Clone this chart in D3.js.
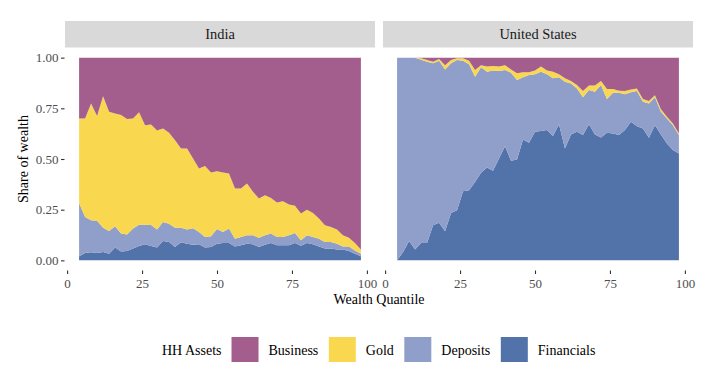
<!DOCTYPE html>
<html>
<head>
<meta charset="utf-8">
<script src="https://cdn.jsdelivr.net/npm/d3@7"></script>
<style>
  body { margin: 0; background: #fff; }
  svg, svg text { font-family: 'Liberation Serif', 'DejaVu Serif', serif; }
  svg { display: block; }
</style>
</head>
<body>
<script>
// wealth quantiles (x)
const quantiles = [4, 6, 8, 10, 12, 14, 16, 18, 20, 22, 24, 26, 28, 30, 32, 34, 36, 38, 40, 42, 44, 46, 48, 50,
  52, 54, 56, 58, 60, 62, 64, 66, 68, 70, 72, 74, 76, 78, 80, 82, 84, 86, 88, 90, 92, 94, 96, 98];

// stacking order, bottom to top
const assetKeys = ['Financials', 'Deposits', 'Gold', 'Business'];
// legend order
const legendKeys = ['Business', 'Gold', 'Deposits', 'Financials'];

const indiaFinancials = [0.020, 0.036, 0.040, 0.036, 0.041, 0.033, 0.063, 0.044, 0.046, 0.058, 0.071, 0.079,
  0.071, 0.063, 0.096, 0.091, 0.066, 0.089, 0.082, 0.077, 0.079, 0.063, 0.066, 0.082,
  0.086, 0.086, 0.069, 0.074, 0.082, 0.079, 0.066, 0.077, 0.086, 0.074, 0.074, 0.074,
  0.086, 0.072, 0.086, 0.079, 0.069, 0.058, 0.058, 0.053, 0.053, 0.046, 0.033, 0.020];
const indiaDeposits = [0.263, 0.178, 0.158, 0.160, 0.120, 0.112, 0.105, 0.088, 0.081, 0.099, 0.105, 0.097,
  0.104, 0.089, 0.093, 0.090, 0.095, 0.072, 0.070, 0.081, 0.061, 0.052, 0.053, 0.073,
  0.054, 0.071, 0.038, 0.041, 0.042, 0.045, 0.046, 0.047, 0.046, 0.041, 0.041, 0.050,
  0.049, 0.027, 0.038, 0.036, 0.038, 0.033, 0.033, 0.029, 0.016, 0.023, 0.016, 0.013];
const indiaGold = [0.417, 0.486, 0.576, 0.516, 0.649, 0.588, 0.557, 0.585, 0.570, 0.543, 0.554, 0.491,
  0.495, 0.488, 0.461, 0.449, 0.432, 0.391, 0.400, 0.344, 0.313, 0.351, 0.314, 0.285,
  0.293, 0.271, 0.247, 0.239, 0.255, 0.214, 0.193, 0.197, 0.176, 0.170, 0.177, 0.151,
  0.134, 0.132, 0.126, 0.119, 0.099, 0.082, 0.074, 0.070, 0.055, 0.043, 0.037, 0.020];
const indiaBusiness = [0.300, 0.300, 0.226, 0.288, 0.190, 0.267, 0.275, 0.283, 0.303, 0.300, 0.270, 0.333,
  0.330, 0.360, 0.350, 0.370, 0.407, 0.448, 0.448, 0.498, 0.547, 0.534, 0.567, 0.560,
  0.567, 0.572, 0.646, 0.646, 0.621, 0.662, 0.695, 0.679, 0.692, 0.715, 0.708, 0.725,
  0.731, 0.769, 0.750, 0.766, 0.794, 0.827, 0.835, 0.848, 0.876, 0.888, 0.914, 0.947];

const usFinancials = [0.000, 0.041, 0.096, 0.053, 0.086, 0.086, 0.173, 0.185, 0.143, 0.234, 0.247, 0.341,
  0.346, 0.387, 0.432, 0.458, 0.442, 0.502, 0.563, 0.491, 0.498, 0.596, 0.580, 0.634,
  0.638, 0.643, 0.613, 0.671, 0.552, 0.621, 0.634, 0.618, 0.672, 0.621, 0.606, 0.629,
  0.626, 0.618, 0.643, 0.684, 0.662, 0.651, 0.605, 0.667, 0.621, 0.577, 0.544, 0.527];
const usDeposits = [1.000, 0.959, 0.904, 0.947, 0.904, 0.894, 0.799, 0.800, 0.799, 0.738, 0.741, 0.644,
  0.621, 0.519, 0.520, 0.473, 0.494, 0.432, 0.376, 0.435, 0.392, 0.307, 0.334, 0.284,
  0.293, 0.275, 0.285, 0.232, 0.329, 0.252, 0.214, 0.186, 0.168, 0.211, 0.259, 0.167,
  0.201, 0.209, 0.177, 0.145, 0.173, 0.132, 0.169, 0.137, 0.112, 0.123, 0.123, 0.091];
const usGold = [0.000, 0.000, 0.000, 0.000, 0.007, 0.008, 0.008, 0.008, 0.021, 0.016, 0.009, 0.012,
  0.018, 0.033, 0.011, 0.025, 0.023, 0.022, 0.024, 0.016, 0.033, 0.025, 0.014, 0.018,
  0.025, 0.018, 0.033, 0.015, 0.017, 0.012, 0.017, 0.031, 0.022, 0.030, 0.020, 0.049,
  0.018, 0.010, 0.015, 0.014, 0.013, 0.013, 0.012, 0.011, 0.012, 0.008, 0.008, 0.008];
const usBusiness = [0.000, 0.000, 0.000, 0.000, 0.003, 0.012, 0.020, 0.007, 0.037, 0.012, 0.003, 0.003,
  0.015, 0.061, 0.037, 0.044, 0.041, 0.044, 0.037, 0.058, 0.077, 0.072, 0.072, 0.064,
  0.044, 0.064, 0.069, 0.082, 0.102, 0.115, 0.135, 0.165, 0.138, 0.138, 0.115, 0.155,
  0.155, 0.163, 0.165, 0.157, 0.152, 0.204, 0.214, 0.185, 0.255, 0.292, 0.325, 0.374];

const yTicks = [0, 0.25, 0.5, 0.75, 1];
const xTicks = [0, 25, 50, 75, 100];

const colors = {
  Business: '#a45e8d',
  Gold: '#f9d84f',
  Deposits: '#8f9fc9',
  Financials: '#5272aa'
};

const width = 720;
const height = 384;

const panels = [
  { name: 'India', left: 65, series: { Financials: indiaFinancials, Deposits: indiaDeposits, Gold: indiaGold, Business: indiaBusiness } },
  { name: 'United States', left: 383, series: { Financials: usFinancials, Deposits: usDeposits, Gold: usGold, Business: usBusiness } }
];

const panelW = 310;
const stripTop = 21;
const panelTop = 47.5;
const panelBottom = 270.5;

const svg = d3.select('body').append('svg')
  .attr('width', width)
  .attr('height', height);

const y = d3.scaleLinear().domain([-0.05, 1.05]).range([panelBottom, panelTop]);

const stack = d3.stack()
  .keys(assetKeys)
  .offset(d3.stackOffsetExpand);

panels.forEach((p, pi) => {
  const x = d3.scaleLinear().domain([-0.7, 102.7]).range([p.left, p.left + panelW]);

  // rows of shares per quantile
  const rows = quantiles.map((q, i) => {
    const row = { q: q };
    assetKeys.forEach(k => { row[k] = p.series[k][i]; });
    return row;
  });

  const area = d3.area()
    .x(d => x(d.data.q))
    .y0(d => y(d[0]))
    .y1(d => y(d[1]));

  svg.append('g').attr('class', 'areas')
    .selectAll('path')
    .data(stack(rows))
    .enter()
      .append('path')
      .attr('d', area)
      .attr('fill', d => colors[d.key]);

  // facet strip
  svg.append('rect')
    .attr('x', p.left)
    .attr('y', stripTop)
    .attr('width', panelW)
    .attr('height', panelTop - stripTop)
    .attr('fill', '#d9d9d9');
  svg.append('text')
    .attr('x', p.left + panelW / 2)
    .attr('y', (stripTop + panelTop) / 2 + 5)
    .attr('text-anchor', 'middle')
    .attr('font-size', 14.4)
    .attr('fill', '#1a1a1a')
    .text(p.name);

  // x axis
  const xAxis = svg.append('g')
    .attr('transform', `translate(0,${panelBottom})`)
    .call(d3.axisBottom(x).tickValues(xTicks).tickSize(3.5).tickPadding(4.5))
    .attr('font-family', null)
    .attr('font-size', null);
  xAxis.select('.domain').remove();
  xAxis.selectAll('line').attr('stroke', '#333').attr('stroke-width', 1.1);
  xAxis.selectAll('text').attr('font-size', 13).attr('fill', '#4d4d4d');

  // y axis only on the first facet
  if (pi === 0) {
    const yAxis = svg.append('g')
      .attr('transform', `translate(${p.left - 0.5},0)`)
      .call(d3.axisLeft(y).tickValues(yTicks).tickFormat(d3.format('.2f')).tickSize(3.5).tickPadding(2.5))
      .attr('font-family', null)
      .attr('font-size', null);
    yAxis.select('.domain').remove();
    yAxis.selectAll('line').attr('stroke', '#333').attr('stroke-width', 1.1);
    yAxis.selectAll('text').attr('font-size', 13).attr('fill', '#4d4d4d');
  }
});

// axis titles
svg.append('text')
  .attr('x', (panels[0].left + panels[1].left + panelW) / 2)
  .attr('y', 304)
  .attr('text-anchor', 'middle')
  .attr('font-size', 14)
  .attr('fill', '#000')
  .text('Wealth Quantile');

svg.append('text')
  .attr('transform', `translate(27.5,${(panelTop + panelBottom) / 2}) rotate(-90)`)
  .attr('text-anchor', 'middle')
  .attr('font-size', 14)
  .attr('fill', '#000')
  .text('Share of wealth');

// legend
const legend = svg.append('g').attr('class', 'legend');
let lx = 162;
const title = legend.append('text')
  .attr('x', lx)
  .attr('y', 355)
  .attr('font-size', 14)
  .attr('fill', '#000')
  .text('HH Assets');
lx += title.node().getComputedTextLength() + 10;

legendKeys.forEach(k => {
  legend.append('rect')
    .attr('x', lx)
    .attr('y', 337)
    .attr('width', 27)
    .attr('height', 25)
    .attr('fill', colors[k]);
  lx += 27 + 10;
  const t = legend.append('text')
    .attr('x', lx)
    .attr('y', 355)
    .attr('font-size', 14)
    .attr('fill', '#000')
    .text(k);
  lx += t.node().getComputedTextLength() + 10.5;
});
</script>
</body>
</html>
